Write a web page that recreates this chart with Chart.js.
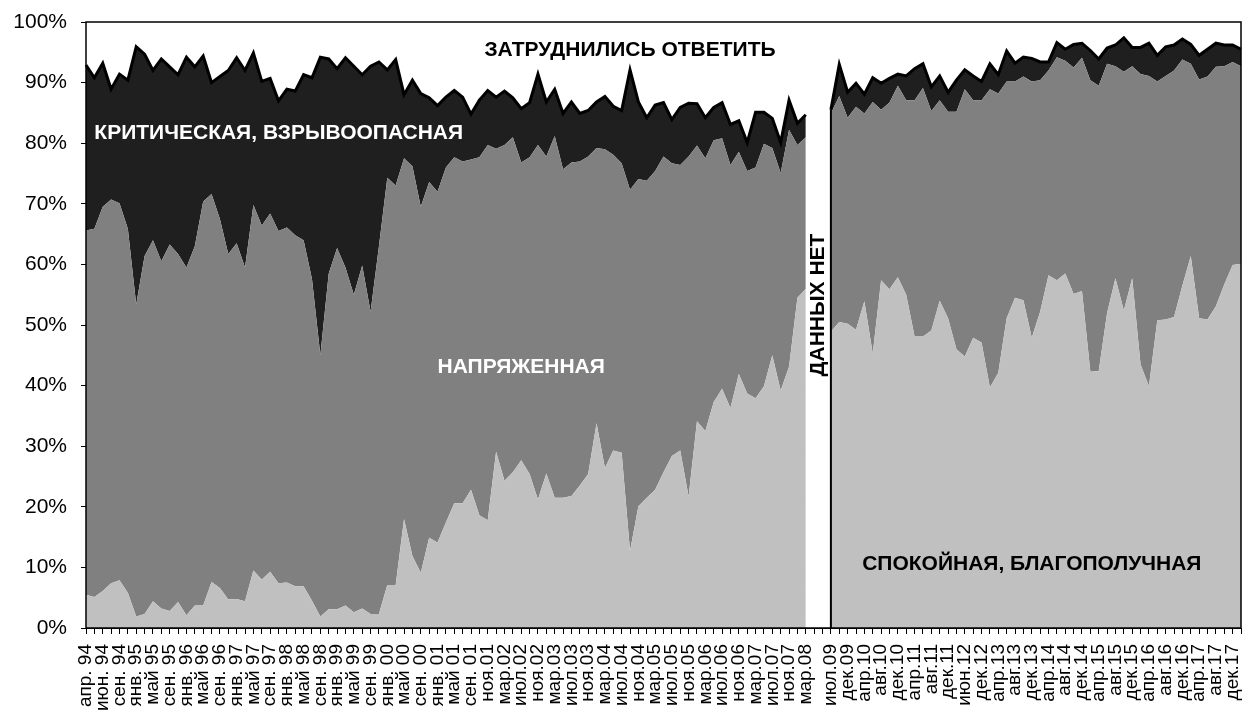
<!DOCTYPE html>
<html lang="ru">
<head>
<meta charset="utf-8">
<title>Оценка ситуации</title>
<script src="https://cdn.jsdelivr.net/npm/chart.js@4/dist/chart.umd.min.js"></script>
<style>
  html, body { margin: 0; padding: 0; background: #fff; }
  #wrap { width: 1252px; height: 718px; }
</style>
</head>
<body>
<div id="wrap"><canvas id="situationChart" width="1252" height="718"></canvas></div>
<script>
// survey waves 1994-2008, every second wave is labelled on the axis
const leftTicks = [
  "апр. 94", "июн. 94", "сен. 94", "янв. 95", "май 95", "сен. 95", "янв. 96", "май 96",
  "сен. 96", "янв. 97", "май 97", "сен. 97", "янв. 98", "май 98", "сен. 98", "янв. 99",
  "май 99", "сен. 99", "янв. 00", "май 00", "сен. 00", "янв. 01", "май 01", "сен. 01",
  "ноя.01", "мар.02", "июл.02", "ноя.02", "мар.03", "июл.03", "ноя.03", "мар.04",
  "июл.04", "ноя.04", "мар.05", "июл.05", "ноя.05", "мар.06", "июл.06", "ноя.06",
  "мар.07", "июл.07", "ноя.07", "мар.08",
];
// survey waves 2009-2017
const rightTicks = [
  "июл.09", "дек.09", "апр.10", "авг.10", "дек.10", "апр.11", "авг.11", "дек.11",
  "июн.12", "дек.12", "апр.13", "авг.13", "дек.13", "апр.14", "авг.14", "дек.14",
  "апр.15", "авг.15", "дек.15", "апр.16", "авг.16", "дек.16", "апр.17", "авг.17", "дек.17",
];

// shares, %; null = no data (between мар.08 and июл.09)
const calm = [
  5.5, 5.1, 6.1, 7.4, 7.9, 5.8, 1.9, 2.3, 4.4, 3.2,
  2.8, 4.3, 2.1, 3.7, 3.7, 7.6, 6.6, 4.7, 4.8, 4.4,
  9.5, 8.0, 9.3, 7.4, 7.5, 6.9, 6.9, 4.5, 1.9, 3.1,
  3.1, 3.7, 2.6, 3.2, 2.3, 2.3, 7.1, 7.1, 18.0, 11.9,
  9.1, 14.9, 14.1, 17.4, 20.6, 20.6, 22.8, 18.6, 17.8, 29.1,
  24.3, 25.7, 27.7, 25.4, 21.2, 25.5, 21.5, 21.5, 21.8, 23.5,
  25.4, 33.8, 26.4, 29.3, 28.9, 12.7, 20.1, 21.5, 22.8, 25.7,
  28.4, 29.3, 21.7, 34.1, 32.5, 37.3, 39.5, 36.3, 41.9, 38.7,
  37.9, 39.9, 45.0, 39.2, 43.1, 54.5, 56.0,
  null, null,
  48.9, 50.5, 50.2, 49.2, 53.9, 45.3, 57.4, 55.9, 57.9, 55.0,
  48.1, 48.1, 49.1, 54.0, 51.1, 46.0, 44.8, 47.9, 47.1, 39.7,
  42.1, 51.1, 54.5, 54.1, 47.9, 52.2, 58.2, 57.4, 58.5, 55.1,
  55.6, 42.3, 42.4, 52.0, 57.7, 52.4, 57.7, 43.5, 39.9, 50.8,
  50.9, 51.3, 56.5, 61.4, 51.1, 50.9, 53.1, 56.7, 59.9, 60.1,
];
const tense = [
  60.1, 60.8, 63.4, 63.3, 62.2, 60.1, 51.5, 59.1, 59.6, 57.3,
  60.5, 57.4, 57.4, 59.3, 66.7, 64.0, 60.9, 57.0, 58.7, 55.1,
  60.3, 58.4, 59.1, 58.1, 58.6, 57.9, 57.1, 53.1, 43.1, 55.4,
  59.6, 55.8, 52.4, 56.6, 49.9, 60.7, 67.2, 65.9, 59.5, 64.3,
  60.4, 58.7, 57.9, 58.6, 57.1, 56.4, 54.5, 59.1, 61.9, 50.0,
  55.4, 55.3, 49.1, 52.3, 58.5, 52.3, 59.7, 54.2, 55.0, 53.5,
  52.4, 45.4, 52.6, 48.8, 47.8, 59.6, 54.0, 52.3, 52.6, 52.1,
  48.3, 47.1, 56.1, 45.5, 45.0, 43.2, 41.3, 40.1, 36.7, 36.7,
  38.1, 40.0, 34.2, 35.9, 39.1, 25.2, 25.0,
  null, null,
  36.0, 37.3, 34.0, 36.8, 31.0, 41.5, 28.1, 30.8, 31.6, 32.1,
  39.0, 41.0, 36.2, 33.1, 34.1, 39.2, 44.1, 39.2, 40.0, 49.2,
  46.1, 39.1, 35.7, 36.9, 42.3, 38.2, 33.8, 36.8, 35.1, 37.4,
  38.5, 48.1, 47.1, 41.1, 35.0, 39.4, 35.0, 47.9, 51.2, 39.4,
  40.2, 40.7, 37.3, 31.7, 39.4, 40.1, 39.5, 36.0, 33.5, 32.6,
];
const critical = [
  27.3, 24.9, 23.7, 18.2, 21.3, 24.5, 42.5, 33.3, 28.0, 33.4,
  29.3, 29.6, 34.7, 29.6, 24.0, 18.4, 23.5, 30.3, 30.6, 32.5,
  25.1, 23.8, 22.3, 21.5, 22.8, 23.8, 27.3, 33.2, 49.2, 35.4,
  29.6, 34.6, 37.7, 31.5, 40.5, 30.4, 17.8, 20.8, 10.5, 14.2,
  18.7, 13.9, 14.2, 11.6, 11.0, 10.6, 7.5, 9.4, 9.0, 8.5,
  8.9, 6.5, 8.9, 9.0, 11.7, 9.0, 7.7, 9.2, 10.0, 7.9,
  7.6, 7.6, 8.7, 8.0, 8.7, 19.8, 12.7, 10.4, 10.9, 8.9,
  7.2, 9.5, 8.8, 6.9, 6.7, 5.4, 5.9, 6.7, 5.1, 4.7,
  9.1, 5.2, 4.9, 5.0, 4.9, 3.6, 3.7,
  null, null,
  0.6, 5.2, 4.2, 3.9, 3.2, 4.0, 4.4, 4.0, 1.9, 4.0,
  5.2, 4.0, 4.0, 4.0, 3.2, 5.2, 3.2, 4.0, 3.1, 4.2,
  3.1, 5.0, 3.0, 3.2, 3.8, 3.0, 1.4, 2.4, 1.9, 3.8,
  2.4, 4.9, 4.4, 2.6, 3.5, 5.6, 3.1, 4.4, 5.4, 4.3,
  4.8, 4.2, 3.4, 3.2, 4.0, 4.5, 3.9, 3.5, 2.8, 2.8,
];
const undecided = [
  7.1, 9.2, 6.8, 11.1, 8.6, 9.6, 4.1, 5.3, 8.0, 6.1,
  7.4, 8.7, 5.8, 7.4, 5.6, 10.0, 9.0, 8.0, 5.9, 8.0,
  5.1, 9.8, 9.3, 13.0, 11.1, 11.4, 8.7, 9.2, 5.8, 6.1,
  7.7, 5.9, 7.3, 8.7, 7.3, 6.6, 7.9, 6.2, 12.0, 9.6,
  11.8, 12.5, 13.8, 12.4, 11.3, 12.4, 15.2, 12.9, 11.3, 12.4,
  11.4, 12.5, 14.3, 13.3, 8.6, 13.2, 11.1, 15.1, 13.2, 15.1,
  14.6, 13.2, 12.3, 13.9, 14.6, 7.9, 13.2, 15.8, 13.7, 13.3,
  16.1, 14.1, 13.4, 13.5, 15.8, 14.1, 13.3, 16.9, 16.3, 19.9,
  14.9, 14.9, 15.9, 19.9, 12.9, 16.7, 15.3,
  null, null,
  14.5, 7.0, 11.6, 10.1, 11.9, 9.2, 10.1, 9.3, 8.6, 8.9,
  7.7, 6.9, 10.7, 8.9, 11.6, 9.6, 7.9, 8.9, 9.8, 6.9,
  8.7, 4.8, 6.8, 5.8, 6.0, 6.6, 6.6, 3.4, 4.5, 3.7,
  3.5, 4.7, 6.1, 4.3, 3.8, 2.6, 4.2, 4.2, 3.5, 5.5,
  4.1, 3.8, 2.8, 3.7, 5.5, 4.5, 3.5, 3.8, 3.8, 4.5,
];

// category list: labelled wave, unlabelled wave, ... plus two empty slots for the gap
const categories = [];
leftTicks.forEach((t, k) => {
  if (k) categories.push("");
  categories.push(t);
});
categories.push("", "");
const rightStart = categories.length;
rightTicks.forEach((t, k) => {
  if (k) categories.push("");
  categories.push(t);
});
while (categories.length < calm.length) categories.push("");

const FONT = "'Liberation Sans', Arial, sans-serif";
Chart.defaults.font.family = FONT;
Chart.defaults.color = "#000";

const areaLabels = {
  id: "areaLabels",
  afterDatasetsDraw(chart) {
    const { ctx, chartArea, scales } = chart;
    const x = scales.x;
    const y = scales.y;

    // left edge of the 2009-2017 block
    const first = chart.getDatasetMeta(2).data[rightStart];
    ctx.save();
    ctx.strokeStyle = "#000";
    ctx.lineWidth = 2;
    ctx.beginPath();
    ctx.moveTo(first.x, first.y);
    ctx.lineTo(first.x, y.getPixelForValue(0));
    ctx.stroke();

    // plot frame
    ctx.lineWidth = 1.5;
    ctx.strokeRect(chartArea.left, chartArea.top, chartArea.width, chartArea.height);

    ctx.font = `bold 21px ${FONT}`;
    ctx.textBaseline = "middle";
    const put = (text, idx, val, color, align) => {
      ctx.fillStyle = color;
      ctx.textAlign = align;
      ctx.fillText(text, x.getPixelForValue(idx), y.getPixelForValue(val));
    };
    put("ЗАТРУДНИЛИСЬ ОТВЕТИТЬ", 65, 95.4, "#000", "center");
    put("КРИТИЧЕСКАЯ, ВЗРЫВООПАСНАЯ", 1, 81.7, "#fff", "left");
    put("НАПРЯЖЕННАЯ", 52, 43, "#fff", "center");
    put("СПОКОЙНАЯ, БЛАГОПОЛУЧНАЯ", 113, 10.5, "#000", "center");

    const gx = (x.getPixelForValue(rightStart - 3) + x.getPixelForValue(rightStart)) / 2;
    ctx.translate(gx, y.getPixelForValue(53.3));
    ctx.rotate(-Math.PI / 2);
    ctx.fillStyle = "#000";
    ctx.textAlign = "center";
    ctx.fillText("ДАННЫХ НЕТ", 0, 0);
    ctx.restore();
  },
};

const area = (label, data, color, extra) => ({
  label,
  data,
  backgroundColor: color,
  borderColor: "transparent",
  borderWidth: 0,
  pointRadius: 0,
  pointHoverRadius: 0,
  tension: 0,
  spanGaps: false,
  ...extra,
});

// keep the plot box where the original has it, labels may overhang
const noEdgePadding = (scale) => {
  scale.paddingLeft = 0;
  scale.paddingRight = 0;
  scale.paddingTop = 0;
  scale.paddingBottom = 0;
};

new Chart(document.getElementById("situationChart"), {
  type: "line",
  data: {
    labels: categories,
    datasets: [
      area("спокойная, благополучная", calm, "#c0c0c0", { fill: "origin" }),
      area("напряженная", tense, "#808080", { fill: "-1" }),
      area("критическая, взрывоопасная", critical, "#1f1f1f", {
        fill: "-1",
        borderColor: "#000",
        borderWidth: 3,
      }),
      area("затруднились ответить", undecided, "#ffffff", { fill: "-1" }),
    ],
  },
  options: {
    responsive: false,
    animation: false,
    layout: { padding: { top: 22, right: 11, left: 0, bottom: 0 } },
    plugins: {
      legend: { display: false },
      tooltip: { enabled: false },
    },
    scales: {
      x: {
        stacked: true,
        offset: false,
        border: { display: true, color: "#000", width: 1 },
        grid: {
          drawOnChartArea: false,
          drawTicks: true,
          tickLength: 6,
          color: "#000",
        },
        ticks: {
          autoSkip: false,
          maxRotation: 90,
          minRotation: 90,
          padding: 10,
          font: { size: 19 },
          color: "#000",
        },
        afterFit: (scale) => {
          noEdgePadding(scale);
          scale.height = 90;
        },
      },
      y: {
        stacked: true,
        min: 0,
        max: 100,
        border: { display: true, color: "#000", width: 1 },
        grid: {
          drawOnChartArea: false,
          drawTicks: true,
          tickLength: 5,
          color: "#000",
        },
        ticks: {
          stepSize: 10,
          padding: 14,
          font: { size: 21 },
          color: "#000",
          callback: (v) => `${v}%`,
        },
        afterFit: (scale) => {
          noEdgePadding(scale);
          scale.width = 86;
        },
      },
    },
  },
  plugins: [areaLabels],
});
</script>
</body>
</html>
